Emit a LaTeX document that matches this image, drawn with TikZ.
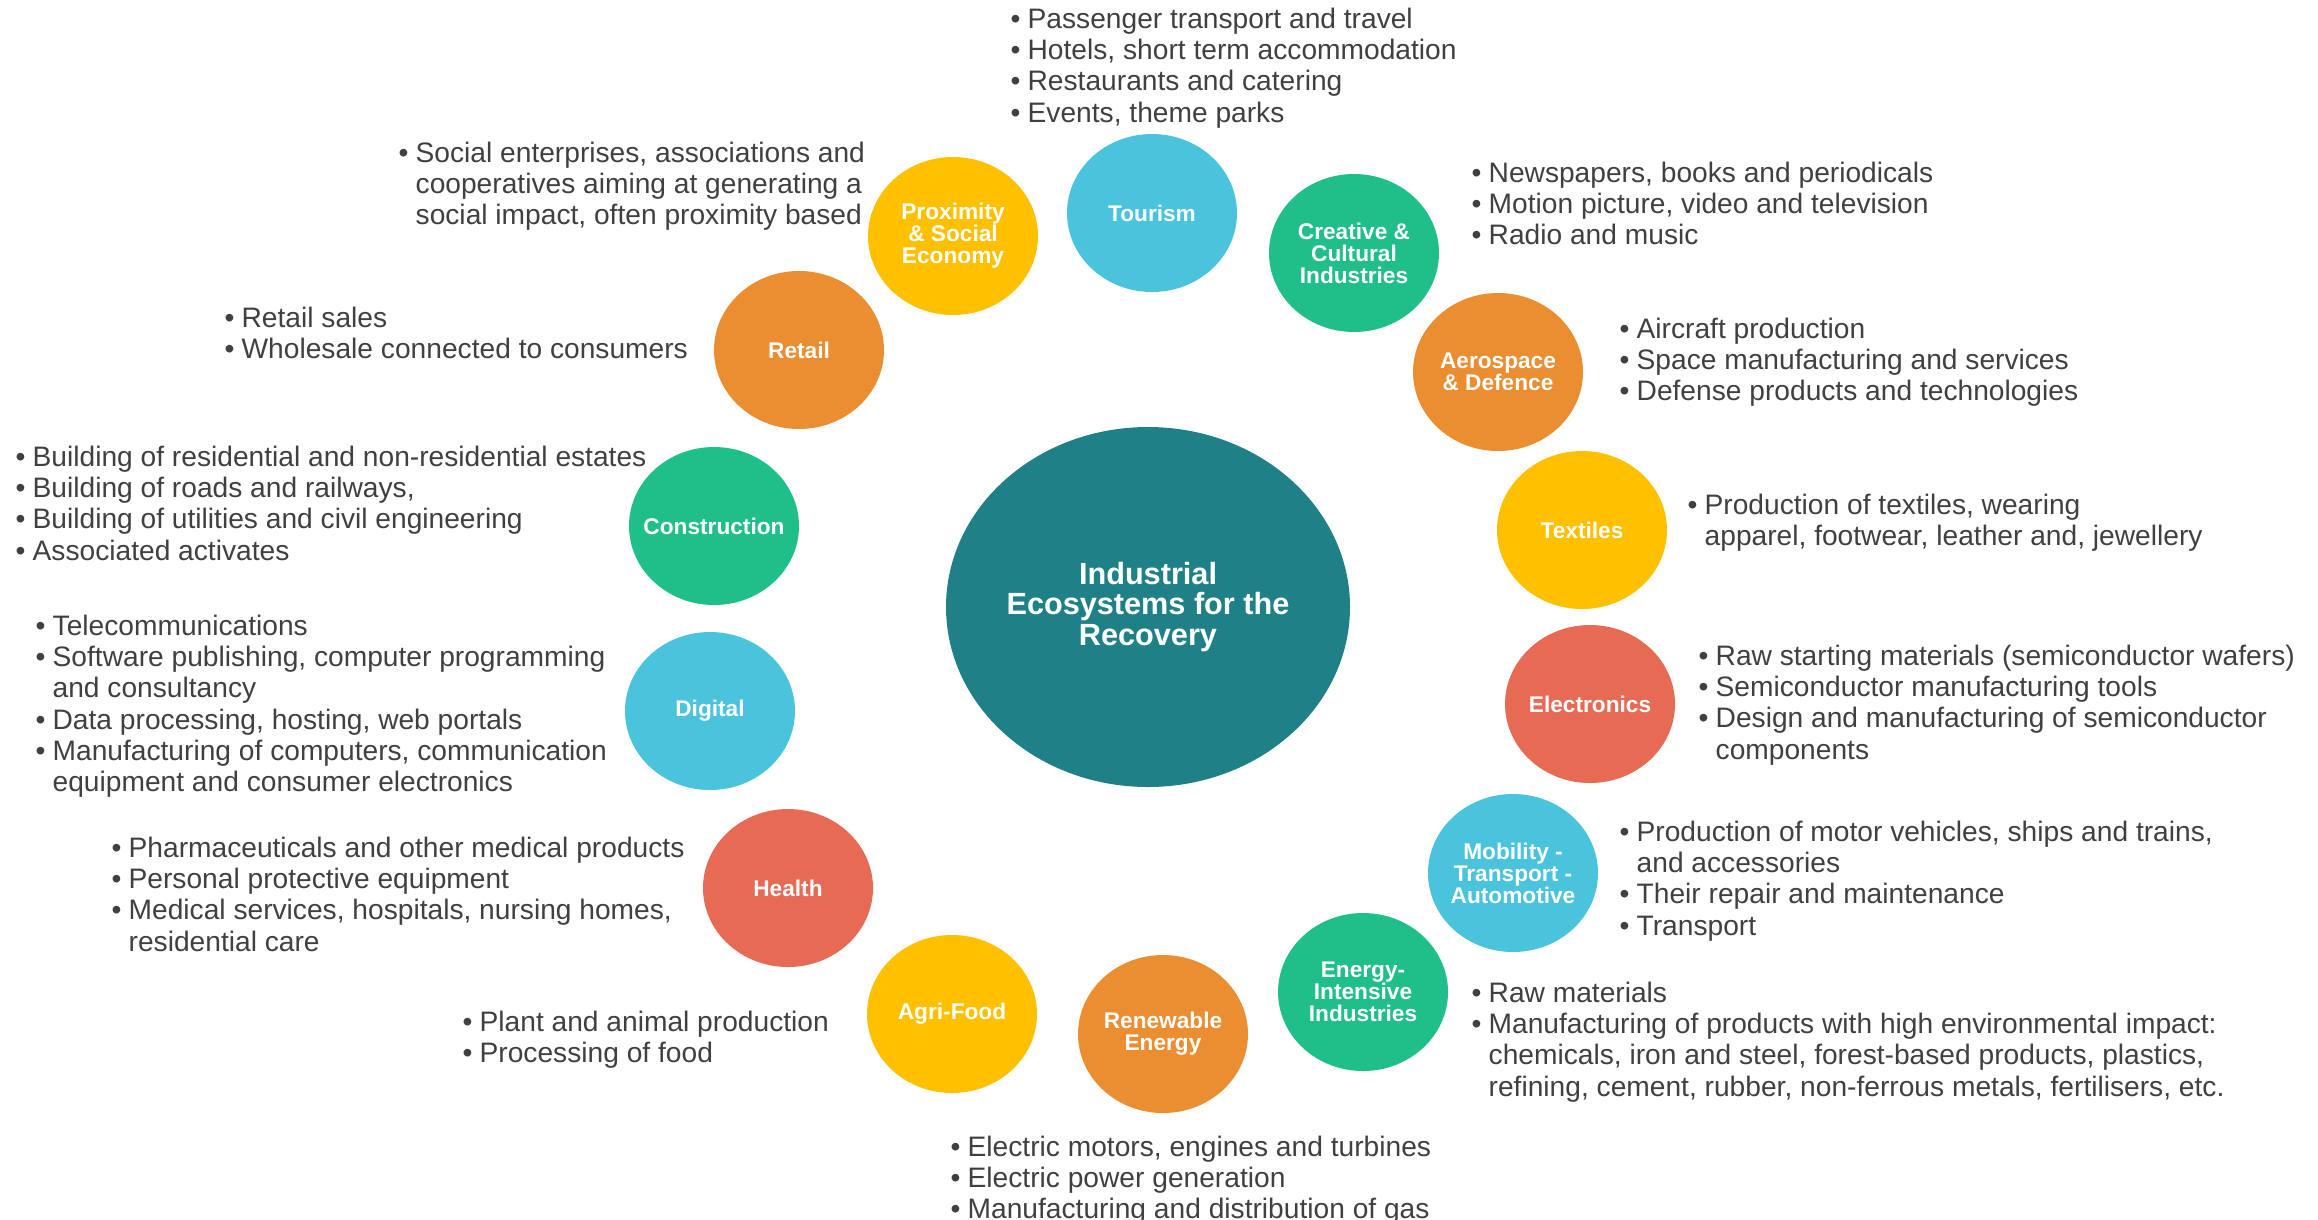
\documentclass[tikz,border=0pt]{standalone}
\usepackage{fontspec}
\setmainfont{Liberation Sans}
\usetikzlibrary{shapes.geometric}

\definecolor{ctour}{RGB}{74,195,221}
\definecolor{cyel}{RGB}{255,192,0}
\definecolor{cgreen}{RGB}{32,190,136}
\definecolor{corange}{RGB}{235,141,49}
\definecolor{cred}{RGB}{231,107,84}
\definecolor{cteal}{RGB}{31,129,135}
\definecolor{txtgray}{RGB}{64,64,64}

\newcommand{\bul}{\makebox[5.1pt][l]{\textbullet}}
\newcommand{\indt}{\hspace*{5.1pt}}

\begin{document}
\begin{tikzpicture}[x=0.3pt,y=0.3pt,yscale=-1,
  hub/.style={ellipse, fill=cteal, inner sep=0pt, minimum width=121.2pt, minimum height=108pt, text=white, align=center, font=\fontsize{9.2}{9.2}\selectfont\bfseries},
  eco/.style={ellipse, inner xsep=-4pt, inner ysep=0pt, minimum width=51pt, minimum height=47.4pt, text=white, align=center, font=\fontsize{6.8}{6.6}\selectfont\bfseries},
  desc/.style={anchor=north west, inner sep=0pt, align=left, text=txtgray, font=\fontsize{8.45}{9.4}\selectfont}]
\useasboundingbox (0,0) rectangle (2318,1219);
\clip (0,0) rectangle (2318,1219);

% Centre
\node[hub] (hub) at (1148,607) {Industrial\\Ecosystems for the\\Recovery};

% Ecosystems
\node[eco, fill=ctour] (tourism) at (1152,213) {Tourism};
\node[eco, fill=cyel] (proximity) at (953,236) {Proximity\\\& Social\\Economy};
\node[eco, fill=cgreen] (creative) at (1354,253) {Creative \&\\Cultural\\Industries};
\node[eco, fill=corange] (retail) at (799,350) {Retail};
\node[eco, fill=corange] (aerospace) at (1498,372) {Aerospace\\\& Defence};
\node[eco, fill=cgreen] (construction) at (714,526) {Construction};
\node[eco, fill=cyel] (textiles) at (1582,530) {Textiles};
\node[eco, fill=ctour] (digital) at (710,711) {Digital};
\node[eco, fill=cred] (electronics) at (1590,704) {Electronics};
\node[eco, fill=cred] (health) at (788,888) {Health};
\node[eco, fill=ctour] (mobility) at (1513,873) {Mobility -\\Transport -\\Automotive};
\node[eco, fill=cyel] (agrifood) at (952,1014) {Agri-Food};
\node[eco, fill=corange] (renewable) at (1163,1034) {Renewable\\Energy};
\node[eco, fill=cgreen] (energy) at (1363,992) {Energy-\\Intensive\\Industries};

% Text Node
\node[desc] (tourism-txt) at (1010,7) {\bul Passenger transport and travel\\
  \bul Hotels, short term accommodation\\
  \bul Restaurants and catering\\
  \bul Events, theme parks};
% Text Node
\node[desc] (proximity-txt) at (398,141) {\bul Social enterprises, associations and\\
  \indt cooperatives aiming at generating a\\
  \indt social impact, often proximity based};
% Text Node
\node[desc] (retail-txt) at (224,306) {\bul Retail sales\\
  \bul Wholesale connected to consumers};
% Text Node
\node[desc] (construction-txt) at (15,445) {\bul Building of residential and non-residential estates\\
  \bul Building of roads and railways,\\
  \bul Building of utilities and civil engineering\\
  \bul Associated activates};
% Text Node
\node[desc] (digital-txt) at (35,614) {\bul Telecommunications\\
  \bul Software publishing, computer programming\\
  \indt and consultancy\\
  \bul Data processing, hosting, web portals\\
  \bul Manufacturing of computers, communication\\
  \indt equipment and consumer electronics};
% Text Node
\node[desc] (health-txt) at (111,836) {\bul Pharmaceuticals and other medical products\\
  \bul Personal protective equipment\\
  \bul Medical services, hospitals, nursing homes,\\
  \indt residential care};
% Text Node
\node[desc] (agrifood-txt) at (462,1010) {\bul Plant and animal production\\
  \bul Processing of food};
% Text Node
\node[desc] (renewable-txt) at (950,1135) {\bul Electric motors, engines and turbines\\
  \bul Electric power generation\\
  \bul Manufacturing and distribution of gas};
% Text Node
\node[desc] (creative-txt) at (1471,161) {\bul Newspapers, books and periodicals\\
  \bul Motion picture, video and television\\
  \bul Radio and music};
% Text Node
\node[desc] (aerospace-txt) at (1619,317) {\bul Aircraft production\\
  \bul Space manufacturing and services\\
  \bul Defense products and technologies};
% Text Node
\node[desc] (textiles-txt) at (1687,493) {\bul Production of textiles, wearing\\
  \indt apparel, footwear, leather and, jewellery};
% Text Node
\node[desc] (electronics-txt) at (1698,644) {\bul Raw starting materials (semiconductor wafers)\\
  \bul Semiconductor manufacturing tools\\
  \bul Design and manufacturing of semiconductor\\
  \indt components};
% Text Node
\node[desc] (mobility-txt) at (1619,820) {\bul Production of motor vehicles, ships and trains,\\
  \indt and accessories\\
  \bul Their repair and maintenance\\
  \bul Transport};
% Text Node
\node[desc] (energy-txt) at (1471,981) {\bul Raw materials\\
  \bul Manufacturing of products with high environmental impact:\\
  \indt chemicals, iron and steel, forest-based products, plastics,\\
  \indt refining, cement, rubber, non-ferrous metals, fertilisers, etc.};

\end{tikzpicture}
\end{document}
